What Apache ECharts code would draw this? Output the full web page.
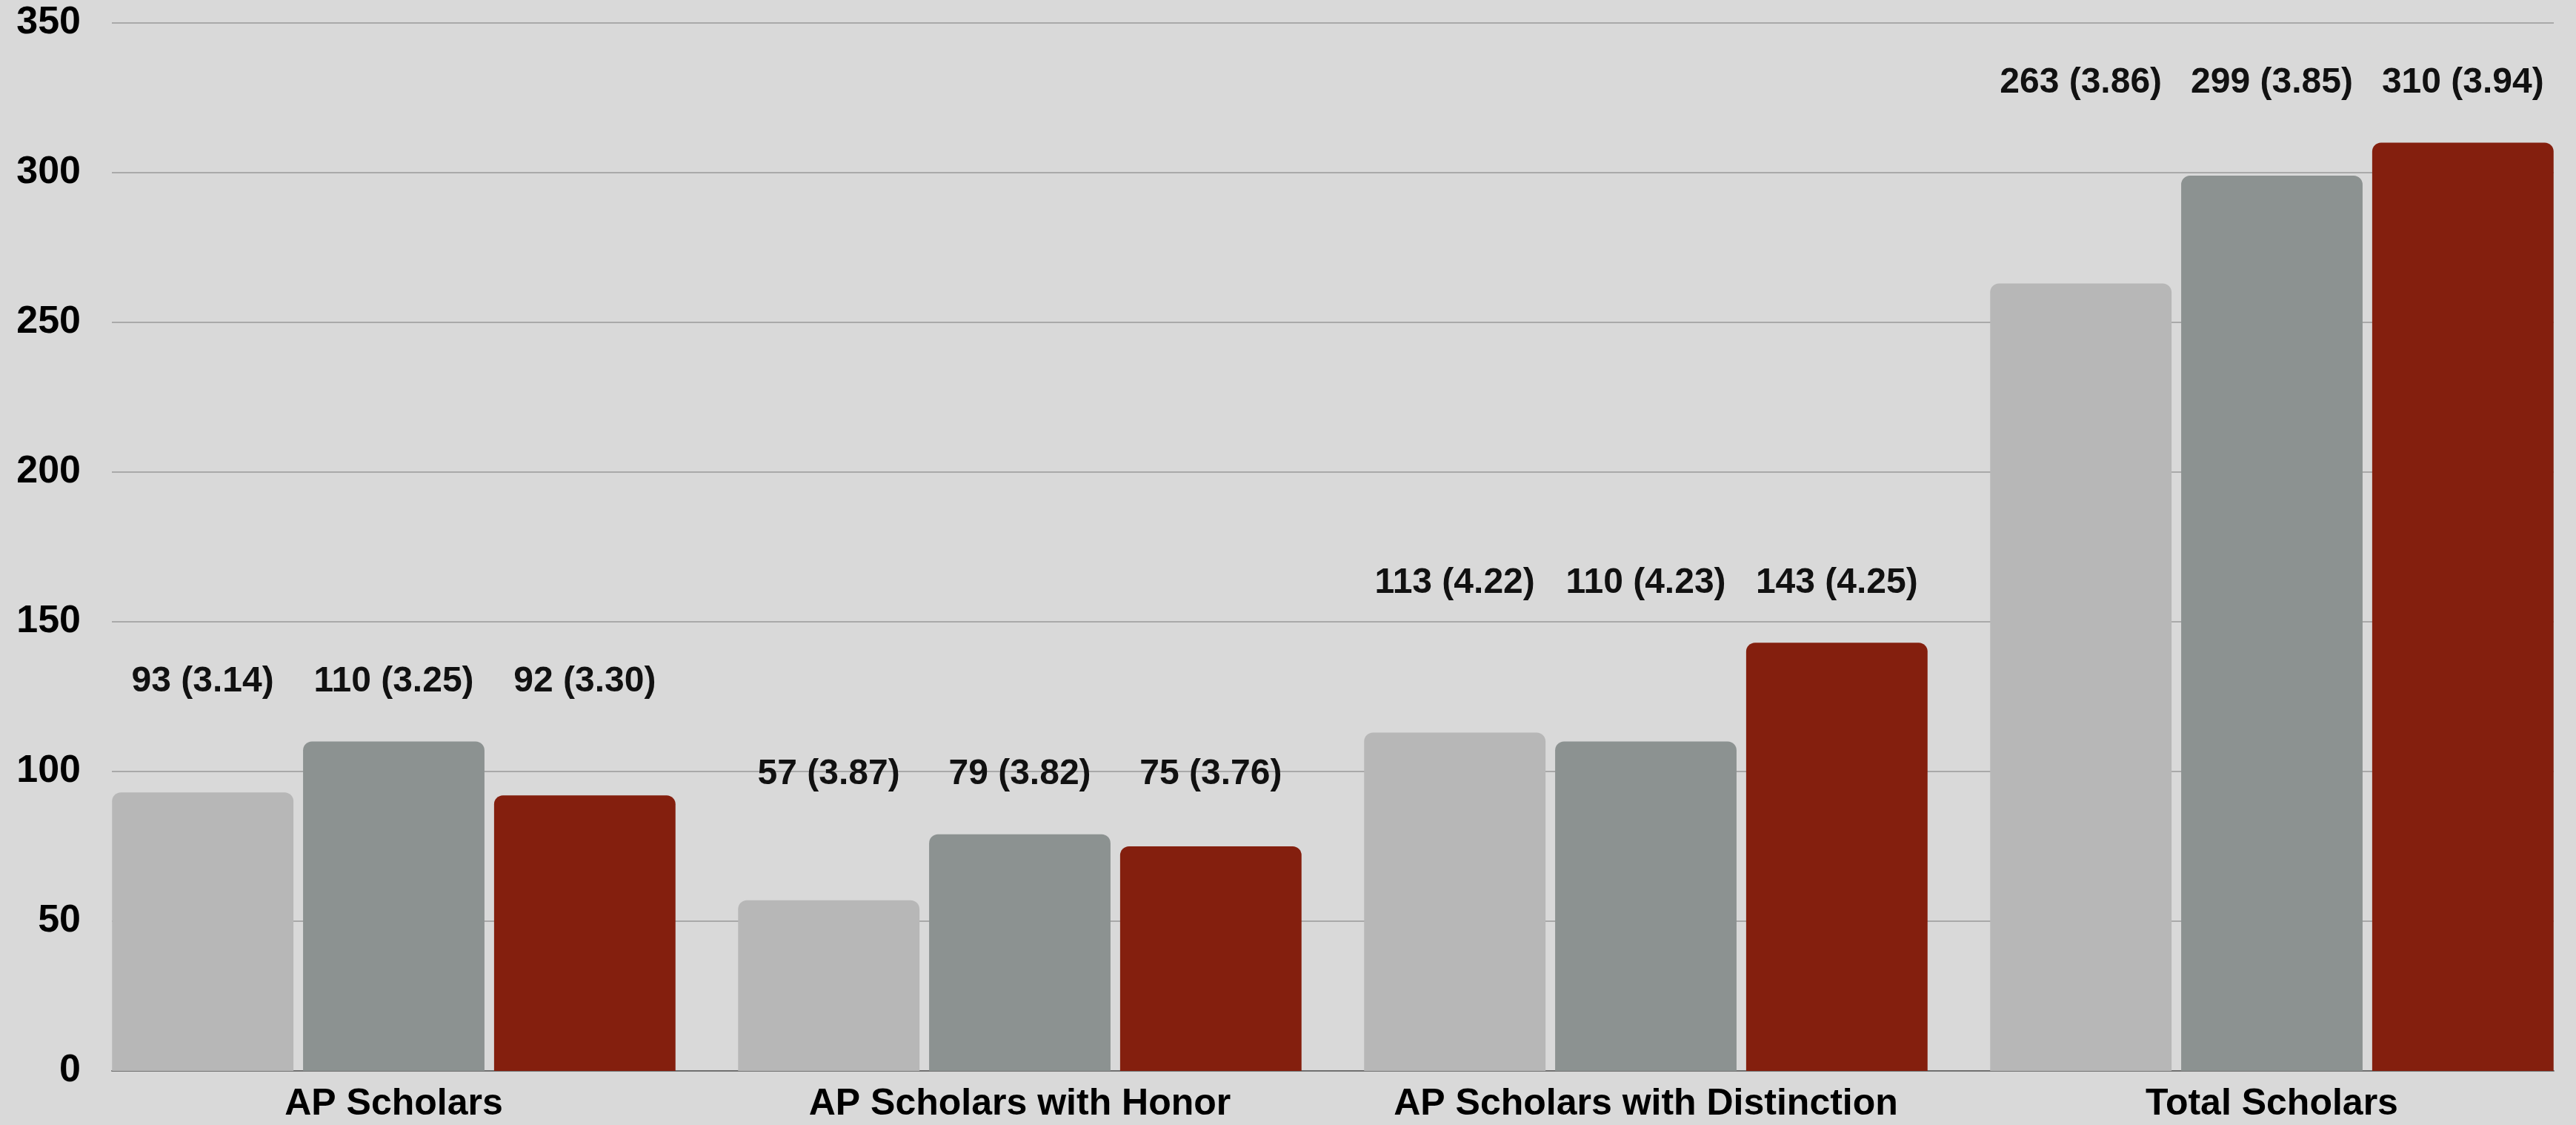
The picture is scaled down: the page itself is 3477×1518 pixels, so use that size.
<!DOCTYPE html>
<html>
<head>
<meta charset="utf-8">
<script src="https://cdn.jsdelivr.net/npm/echarts@6/dist/echarts.min.js"></script>
<style>
  html, body { margin: 0; padding: 0; background: #d9d9d9; overflow: hidden; width: 3477px; height: 1518px; }
  #chart { width: 3500px; height: 1518px; }
</style>
</head>
<body>
<div id="chart"></div>
<script>
// ---- data ----
const categories = ['AP Scholars', 'AP Scholars with Honor', 'AP Scholars with Distinction', 'Total Scholars'];
const countsA = [93, 57, 113, 263];
const gpaA    = [3.14, 3.87, 4.22, 3.86];
const countsB = [110, 79, 110, 299];
const gpaB    = [3.25, 3.82, 4.23, 3.85];
const countsC = [92, 75, 143, 310];
const gpaC    = [3.30, 3.76, 4.25, 3.94];
const yTicks  = [0, 50, 100, 150, 200, 250, 300, 350];

// ---- style ----
const FONT = 'Liberation Sans, Arial, sans-serif';
const colors = ['#b7b7b7', '#8c9291', '#841f0e'];
const labelPad = 20; // label row sits this many units above the tallest bar of a group

const groups = [
  { counts: countsA, gpa: gpaA },
  { counts: countsB, gpa: gpaB },
  { counts: countsC, gpa: gpaC }
];
const groupMax = categories.map((_, i) => Math.max(countsA[i], countsB[i], countsC[i]));
const labelLevel = groupMax.map(m => m + labelPad);

const series = [];
groups.forEach((g, si) => {
  series.push({
    type: 'bar',
    name: 's' + si,
    stack: 'st' + si,
    xAxisIndex: 1, yAxisIndex: 1,
    data: g.counts,
    barCategoryGap: '10%',
    barGap: '5.3%',
    itemStyle: { color: colors[si], borderRadius: [12, 12, 0, 0] },
    emphasis: { disabled: true },
    silent: true
  });
  series.push({
    type: 'bar',
    name: 'pad' + si,
    stack: 'st' + si,
    xAxisIndex: 1, yAxisIndex: 1,
    data: g.counts.map((v, i) => labelLevel[i] - v),
    barCategoryGap: '10%',
    barGap: '5.3%',
    itemStyle: { color: 'rgba(0,0,0,0)' },
    emphasis: { disabled: true },
    silent: true,
    label: {
      show: true,
      position: 'top',
      distance: -24,
      fontFamily: FONT,
      fontWeight: 'bold',
      fontSize: 48,
      color: '#111',
      formatter: p => g.counts[p.dataIndex] + ' (' + g.gpa[p.dataIndex].toFixed(2) + ')'
    }
  });
});

const chart = echarts.init(document.getElementById('chart'), null, { renderer: 'canvas' });
chart.setOption({
  animation: false,
  backgroundColor: '#d9d9d9',
  grid: [
    { left: 151, width: 3296, top: 31, bottom: 73 },
    { left: 109, width: 3380, top: 31, bottom: 73 }
  ],
  xAxis: [
    {
      type: 'category', gridIndex: 0, data: categories,
      axisLine: { show: true, lineStyle: { color: '#707070', width: 2 } },
      axisTick: { show: false }, axisLabel: { show: false }, splitLine: { show: false }
    },
    {
      type: 'category', gridIndex: 1, data: categories,
      axisLine: { show: false }, axisTick: { show: false },
      axisLabel: { show: true, interval: 0, margin: 20, fontFamily: FONT, fontWeight: 'bold', fontSize: 50, color: '#000' }
    }
  ],
  yAxis: [
    {
      type: 'value', gridIndex: 0, min: yTicks[0], max: yTicks[yTicks.length - 1], interval: yTicks[1] - yTicks[0],
      axisLine: { show: false }, axisTick: { show: false },
      axisLabel: { show: true, margin: 42, fontFamily: FONT, fontWeight: 'bold', fontSize: 52, color: '#000' },
      splitLine: { show: true, lineStyle: { color: '#a9a9a9', width: 2 } }
    },
    {
      type: 'value', gridIndex: 1, min: yTicks[0], max: yTicks[yTicks.length - 1], interval: yTicks[1] - yTicks[0],
      axisLine: { show: false }, axisTick: { show: false }, axisLabel: { show: false }, splitLine: { show: false }
    }
  ],
  series: series
});
</script>
</body>
</html>
